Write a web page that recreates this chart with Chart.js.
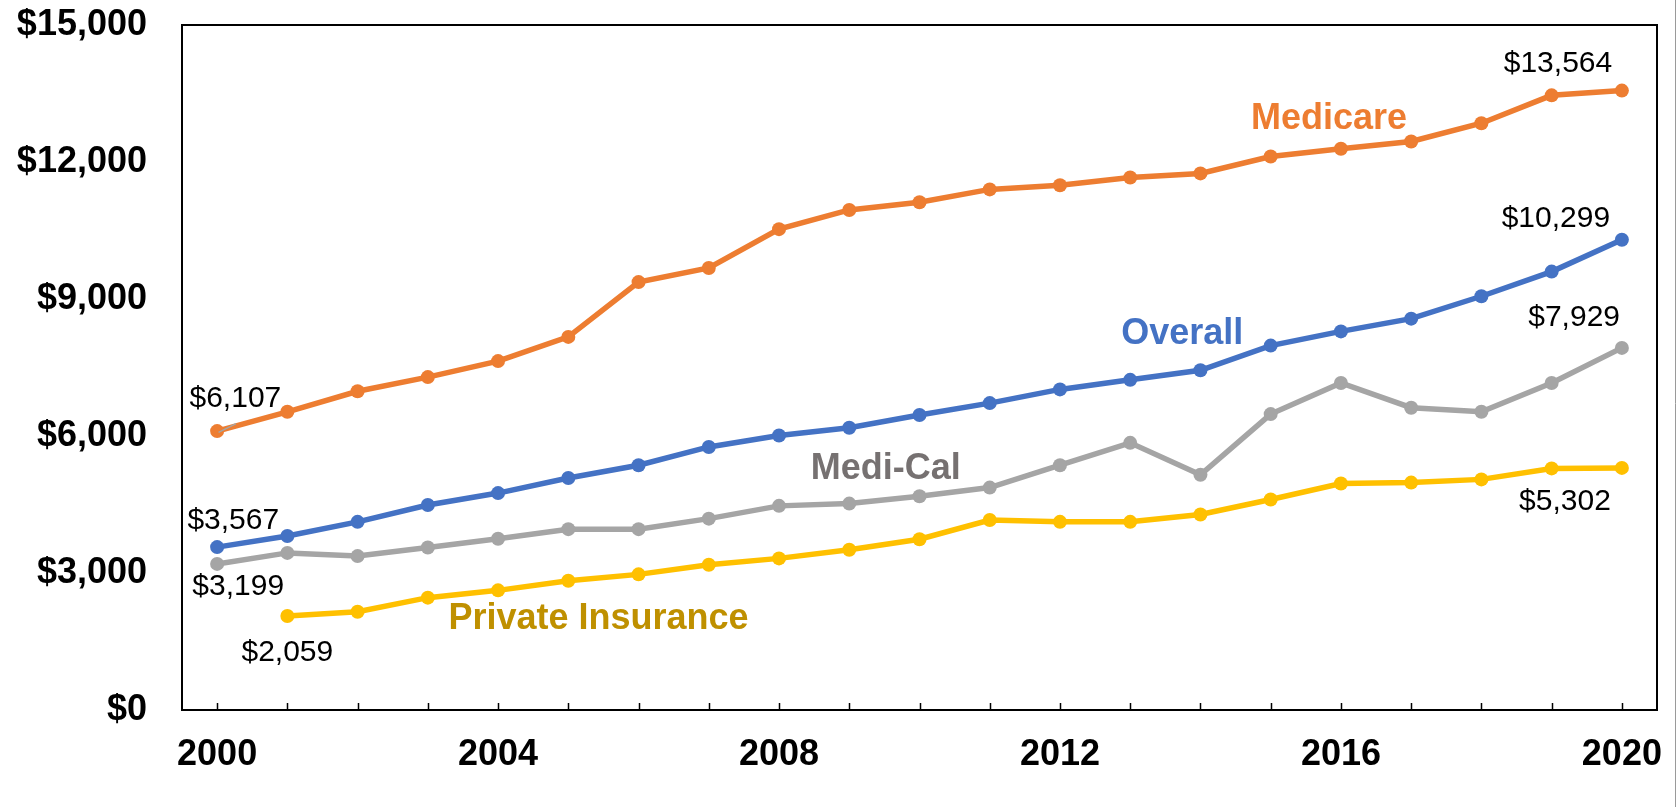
<!DOCTYPE html>
<html>
<head>
<meta charset="utf-8">
<script src="https://cdn.jsdelivr.net/npm/chart.js@4/dist/chart.umd.min.js"></script>
<style>
  html, body { margin: 0; padding: 0; background: #fff; }
  #wrap { width: 1678px; height: 807px; }
</style>
</head>
<body>
<div id="wrap"><canvas id="grafica" width="1678" height="807"></canvas></div>
<script>
// years on the x axis
var years = ['2000','2001','2002','2003','2004','2005','2006','2007','2008','2009','2010',
             '2011','2012','2013','2014','2015','2016','2017','2018','2019','2020'];
var yearTicks = ['2000','2004','2008','2012','2016','2020'];

// values
var medicare = [6107, 6530, 6980, 7290, 7640, 8170, 9370, 9680, 10530, 10950, 11120,
                11400, 11490, 11660, 11750, 12120, 12290, 12450, 12850, 13460, 13564];
var overall = [3567, 3810, 4120, 4490, 4750, 5080, 5360, 5760, 6010, 6180, 6460,
               6720, 7020, 7230, 7440, 7980, 8290, 8570, 9060, 9600, 10299];
var mediCal = [3199, 3440, 3370, 3560, 3750, 3960, 3960, 4190, 4470, 4520, 4680,
               4870, 5360, 5850, 5150, 6480, 7160, 6620, 6530, 7160, 7929];
var privateIns = [null, 2059, 2150, 2460, 2620, 2830, 2970, 3180, 3320, 3510, 3740,
                  4160, 4120, 4120, 4280, 4610, 4960, 4980, 5050, 5290, 5302];

var fuente = '"Liberation Sans", Arial, Helvetica, sans-serif';

// text placed in the plot, anchored in axis units (category index, dollars)
var etiquetas = [
  { text: '$6,107',  x: 0.26,  y: 6820,  color: '#000', bold: false },
  { text: '$3,567',  x: 0.23,  y: 4150,  color: '#000', bold: false },
  { text: '$3,199',  x: 0.30,  y: 2710,  color: '#000', bold: false },
  { text: '$2,059',  x: 1.0,   y: 1250,  color: '#000', bold: false },
  { text: '$13,564', x: 19.09, y: 14160, color: '#000', bold: false },
  { text: '$10,299', x: 19.06, y: 10750, color: '#000', bold: false },
  { text: '$7,929',  x: 19.32, y: 8590,  color: '#000', bold: false },
  { text: '$5,302',  x: 19.19, y: 4550,  color: '#000', bold: false },
  { text: 'Medicare', x: 15.83, y: 12940, color: '#ED7D31', bold: true },
  { text: 'Overall',  x: 13.74, y: 8240,  color: '#4472C4', bold: true },
  { text: 'Medi-Cal', x: 9.52,  y: 5270,  color: '#767171', bold: true },
  { text: 'Private Insurance', x: 5.43, y: 1990, color: '#BF9000', bold: true }
];

var marcoPlugin = {
  id: 'marco',
  afterDatasetsDraw: function(chart) {
    var ctx = chart.ctx;
    var a = chart.chartArea;
    var xs = chart.scales.x;
    var ys = chart.scales.y;
    ctx.save();
    // plot border
    ctx.strokeStyle = '#000';
    ctx.lineWidth = 2;
    ctx.strokeRect(a.left, a.top, a.right - a.left, a.bottom - a.top);
    // inward tick marks on the x axis
    ctx.beginPath();
    for (var i = 0; i < years.length; i++) {
      var px = Math.round(xs.getPixelForValue(i)) + 0.5;
      ctx.moveTo(px, a.bottom);
      ctx.lineTo(px, a.bottom - 7);
    }
    ctx.lineWidth = 1.5;
    ctx.stroke();
    // leader line for the first Medicare label
    ctx.beginPath();
    ctx.strokeStyle = '#A5A5A5';
    ctx.lineWidth = 1.5;
    ctx.moveTo(xs.getPixelForValue(0.27), ys.getPixelForValue(6270));
    ctx.lineTo(xs.getPixelForValue(0.02), ys.getPixelForValue(6080));
    ctx.stroke();
    // labels
    ctx.textAlign = 'center';
    ctx.textBaseline = 'middle';
    etiquetas.forEach(function(e) {
      ctx.fillStyle = e.color;
      ctx.font = (e.bold ? 'bold 36px ' : '30px ') + fuente;
      ctx.fillText(e.text, xs.getPixelForValue(e.x), ys.getPixelForValue(e.y));
    });
    // faint outer edge on the right
    ctx.strokeStyle = '#9a9a9a';
    ctx.lineWidth = 1;
    ctx.beginPath();
    ctx.moveTo(1675.5, 0);
    ctx.lineTo(1675.5, 807);
    ctx.stroke();
    ctx.restore();
  }
};

function serie(nombre, datos, color) {
  return {
    label: nombre,
    data: datos,
    borderColor: color,
    backgroundColor: color,
    borderWidth: 5.5,
    pointRadius: 7,
    pointBorderWidth: 0,
    pointHoverRadius: 7,
    tension: 0,
    spanGaps: false
  };
}

var ctx = document.getElementById('grafica').getContext('2d');
new Chart(ctx, {
  type: 'line',
  data: {
    labels: years,
    datasets: [
      serie('Private Insurance', privateIns, '#FFC000'),
      serie('Medi-Cal', mediCal, '#A5A5A5'),
      serie('Overall', overall, '#4472C4'),
      serie('Medicare', medicare, '#ED7D31')
    ]
  },
  options: {
    responsive: false,
    animation: false,
    layout: { padding: { top: 25, right: 21, bottom: 0, left: 0 } },
    plugins: {
      legend: { display: false },
      tooltip: { enabled: false },
      title: { display: false }
    },
    scales: {
      x: {
        offset: true,
        grid: { display: false, drawTicks: false },
        border: { display: false },
        ticks: {
          autoSkip: false,
          maxRotation: 0,
          padding: 23,
          color: '#000',
          font: { family: fuente, size: 36, weight: 'bold' },
          callback: function(value, index) {
            var y = years[index];
            return yearTicks.indexOf(y) >= 0 ? y : '';
          }
        },
        afterFit: function(scale) {
          scale.height = 97;
          scale.paddingLeft = 0;
          scale.paddingRight = 0;
        }
      },
      y: {
        min: 0,
        max: 15000,
        grid: { display: false, drawTicks: false },
        border: { display: false },
        ticks: {
          stepSize: 3000,
          padding: 35,
          color: '#000',
          font: { family: fuente, size: 36, weight: 'bold' },
          callback: function(v) { return '$' + v.toLocaleString('en-US'); }
        },
        afterFit: function(scale) {
          scale.width = 182;
          scale.paddingTop = 0;
          scale.paddingBottom = 0;
        }
      }
    }
  },
  plugins: [marcoPlugin]
});
</script>
</body>
</html>
